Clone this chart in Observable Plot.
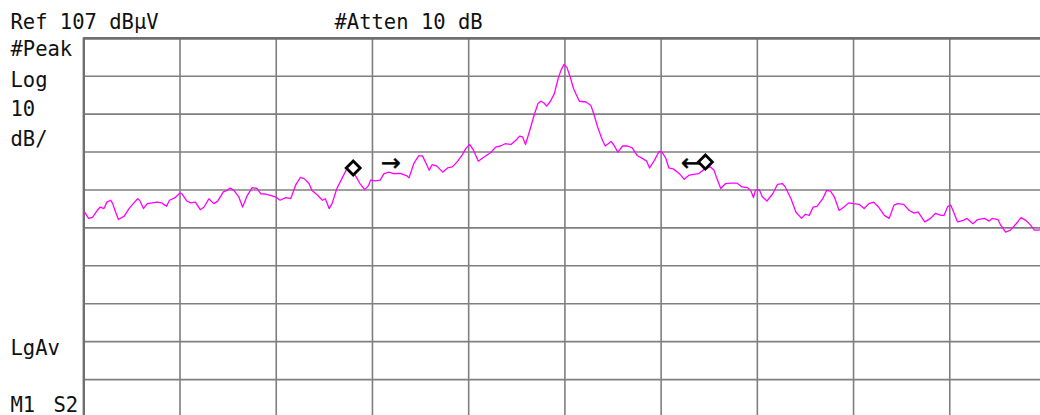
<!DOCTYPE html>
<html>
<head>
<meta charset="utf-8">
<script src="https://cdn.jsdelivr.net/npm/d3@7"></script>
<script src="https://cdn.jsdelivr.net/npm/@observablehq/plot@0.6"></script>
<style>
  html, body { margin: 0; padding: 0; background: #fff; }
  #chart svg { display: block; }
</style>
</head>
<body>
<div id="chart"></div>
<script>
// Frequency position in screen divisions (0 = left edge, 10 = right edge)
const freqDiv = [
  0.01,0.05,0.09,0.14,0.17,0.21,0.24,0.28,0.30,0.33,0.36,0.42,0.47,0.52,0.56,0.58,0.62,0.66,0.71,0.76,
  0.81,0.86,0.89,0.95,1.00,1.02,1.07,1.11,1.16,1.21,1.25,1.30,1.35,1.39,1.45,1.49,1.52,1.56,1.61,1.65,
  1.70,1.75,1.80,1.84,1.89,1.94,1.99,2.04,2.10,2.15,2.20,2.25,2.29,2.34,2.37,2.43,2.48,2.51,2.55,2.58,
  2.63,2.69,2.73,2.78,2.82,2.87,2.92,2.96,2.98,3.03,3.08,3.12,3.17,3.22,3.29,3.36,3.38,3.43,3.48,3.52,
  3.55,3.59,3.62,3.67,3.73,3.78,3.83,3.88,3.93,3.97,4.01,4.05,4.10,4.16,4.23,4.28,4.33,4.38,4.44,4.49,
  4.53,4.56,4.59,4.63,4.68,4.72,4.75,4.78,4.81,4.85,4.89,4.93,4.96,4.99,5.02,5.06,5.09,5.15,5.22,5.27,
  5.30,5.34,5.39,5.42,5.48,5.51,5.55,5.60,5.65,5.70,5.75,5.80,5.85,5.88,5.93,5.98,6.01,6.05,6.08,6.13,
  6.19,6.24,6.29,6.34,6.39,6.45,6.51,6.55,6.58,6.62,6.67,6.72,6.79,6.84,6.90,6.93,6.96,6.98,7.02,7.05,
  7.10,7.16,7.21,7.26,7.29,7.35,7.40,7.46,7.50,7.54,7.58,7.62,7.68,7.72,7.76,7.80,7.85,7.90,7.95,8.00,
  8.06,8.11,8.16,8.21,8.26,8.32,8.37,8.42,8.46,8.52,8.58,8.63,8.67,8.74,8.80,8.85,8.91,8.94,8.98,9.01,
  9.03,9.08,9.14,9.18,9.24,9.29,9.36,9.41,9.44,9.50,9.53,9.58,9.63,9.69,9.74,9.79,9.83,9.88,9.91,9.95
];
// Trace level, dBµV
const levelDb = [
  61.1,59.5,59.8,61.6,62.5,62.1,63.8,64.3,63.4,61.2,59.2,60.1,62.1,63.6,64.7,64.3,62.1,63.4,63.6,63.8,
  63.6,62.7,64.3,65.0,66.2,66.0,64.1,63.6,63.8,61.8,62.5,64.7,63.4,64.0,66.5,66.9,67.5,66.9,65.2,62.5,
  65.6,67.6,67.4,66.0,65.9,65.6,65.2,64.3,65.0,64.7,68.2,70.3,70.0,68.7,66.9,65.6,64.3,64.7,62.1,63.4,
  67.4,70.4,72.4,73.2,70.9,68.7,67.1,68.2,69.6,69.4,69.6,71.3,71.7,71.3,71.4,70.7,70.2,74.0,76.0,76.0,
  74.4,72.2,73.7,73.3,71.7,72.8,73.1,74.4,76.1,77.9,79.0,77.5,74.6,75.7,76.9,78.3,78.6,79.2,79.0,80.1,
  81.2,81.0,79.0,82.3,86.7,89.8,90.4,90.0,89.1,90.4,92.4,96.4,98.6,100.1,99.4,96.4,93.7,90.4,90.2,89.3,
  87.1,83.6,80.1,78.6,79.8,78.8,77.0,78.6,78.6,78.1,76.1,75.4,74.6,72.8,74.8,77.2,77.0,75.3,72.8,72.5,
  71.3,69.8,70.9,71.1,71.3,72.5,73.1,72.2,70.0,67.4,68.7,68.8,68.8,67.8,67.6,66.9,65.0,66.9,67.1,65.3,
  64.1,66.0,68.5,68.7,67.8,64.7,61.2,59.5,60.6,60.3,62.5,62.7,64.7,66.9,66.7,65.2,61.6,62.5,63.6,63.4,
  63.2,62.1,63.4,63.8,62.5,60.3,59.5,63.0,63.4,63.2,61.6,60.9,61.2,58.6,59.5,60.8,60.3,60.3,62.7,63.0,
  61.8,58.6,59.0,59.5,58.1,59.2,59.5,58.8,59.5,59.2,57.7,55.9,56.4,58.1,59.7,59.0,58.0,56.4,56.4,56.5
];

// Markers (diamonds) and delta arrows
const markerFreq = [2.80, 6.46];
const markerLevel = [72.8, 74.4];
const arrowText = ["→", "←"];
const arrowFreq = [3.19, 6.31];
const arrowLevel = [74.0, 74.0];

// Grid: 10 divisions, reference level 107 dBµV, 10 dB/div
const gridFreq = [0,1,2,3,4,5,6,7,8,9,10];
const gridLevel = [7,17,27,37,47,57,67,77,87,97,107];

// Annotation texts
const headerLabels = ["Ref 107 dBµV", "#Atten 10 dB"];
const sideLabels = ["#Peak", "Log", "10", "dB/", "LgAv"];
const footerLabels = ["M1", "S2"];

const trace = freqDiv.map((f, i) => ({f, level: levelDb[i]}));
const markers = markerFreq.map((f, i) => ({f, level: markerLevel[i]}));
const arrows = arrowText.map((t, i) => ({t, f: arrowFreq[i], level: arrowLevel[i]}));

const ML = 83.3, MT = 37.8;
const FONT = "'DejaVu Sans Mono', monospace";
const FS = 20.5;

function label(t, x, baseline) {
  return Plot.text([t], {
    frameAnchor: "top-left",
    dx: x - ML, dy: baseline - MT,
    textAnchor: "start", lineAnchor: "bottom",
    fontSize: FS, fontFamily: FONT, fill: "#111"
  });
}

const chart = Plot.plot({
  width: 1040,
  height: 415,
  marginLeft: ML,
  marginTop: MT,
  marginRight: -5.5,
  marginBottom: -2,
  x: {domain: [0, 10], axis: null},
  y: {domain: [7, 107], axis: null},
  style: {background: "#fff"},
  marks: [
    Plot.ruleX(gridFreq, {stroke: "#7f7f7f", strokeWidth: 1.6}),
    Plot.ruleY(gridLevel, {stroke: "#7f7f7f", strokeWidth: 1.6}),
    Plot.ruleX([gridFreq[0]], {stroke: "#6f6f6f", strokeWidth: 2.4}),
    Plot.ruleY([gridLevel[gridLevel.length - 1]], {stroke: "#6f6f6f", strokeWidth: 2.8}),
    Plot.line(trace, {x: "f", y: "level", stroke: "#ff00ff", strokeWidth: 1.3}),
    Plot.dot(markers, {x: "f", y: "level", symbol: "diamond2", r: 6.3, stroke: "#000", strokeWidth: 2.8, fill: "#fff"}),
    Plot.text(arrows, {x: "f", y: "level", text: "t", fontSize: 24, fontFamily: "'DejaVu Sans', sans-serif", fill: "#000", stroke: "#000", strokeWidth: 0.4}),
    label(headerLabels[0], 10, 28),
    label(headerLabels[1], 334, 28),
    label(sideLabels[0], 10, 55),
    label(sideLabels[1], 10, 86),
    label(sideLabels[2], 10, 115),
    label(sideLabels[3], 10, 145),
    label(sideLabels[4], 10, 354),
    label(footerLabels[0], 10, 411),
    label(footerLabels[1], 53, 411)
  ]
});
document.getElementById("chart").appendChild(chart);
</script>
</body>
</html>
